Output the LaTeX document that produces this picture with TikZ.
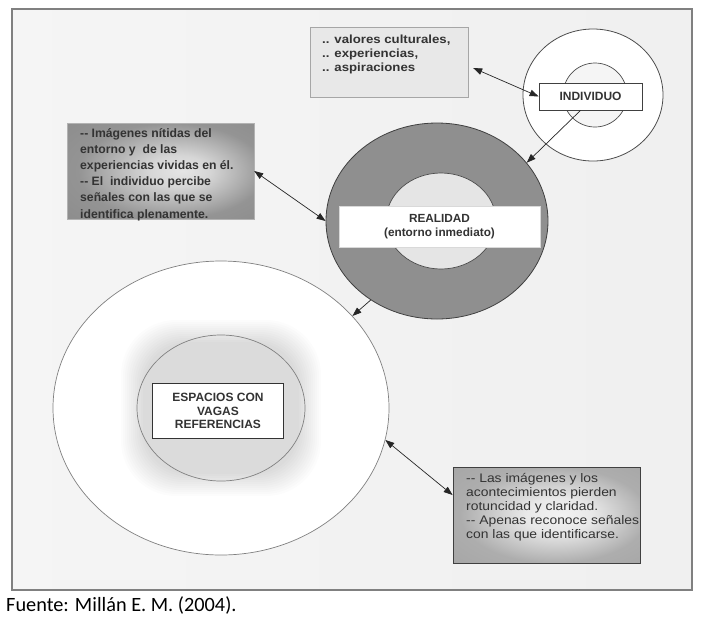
\documentclass[tikz,border=0pt]{standalone}
\usepackage{fontspec}
\setmainfont{Liberation Sans}
\newfontfamily\calibri{Carlito}
\newfontfamily\widesans[FakeStretch=1.12]{Liberation Sans}
\usetikzlibrary{arrows.meta,shapes.geometric,calc}
\pgfdeclareradialshading{lbshade}{\pgfpoint{6bp}{0bp}}{color(0bp)=(black!10); color(8bp)=(black!16); color(25bp)=(black!42); color(50bp)=(black!48)}
\pgfdeclareradialshading{brshade}{\pgfpoint{4bp}{0bp}}{color(0bp)=(black!5); color(9bp)=(black!9); color(25bp)=(black!32); color(50bp)=(black!38)}
\tikzset{
  biarrow/.style={{Triangle[length=9pt,width=6.5pt]}-{Triangle[length=9pt,width=6.5pt]}, line width=0.7pt, black!85},
  onearrow/.style={-{Triangle[length=9pt,width=6.5pt]}, line width=0.7pt, black!85},
  ring/.style={ellipse, inner sep=0pt},
  labelbox/.style={inner sep=0pt, align=center, text=black!80},
  txt/.style={inner sep=0pt, anchor=north west, align=left, text=black!80},
  glowlayer/.style={fill=black, fill opacity=0.011, draw=none},
}
\begin{document}
\begin{tikzpicture}[x=1pt,y=-1pt]
\useasboundingbox (0,0) rectangle (716,625);
\fill[white] (0,0) rectangle (716,625);
% frame
\shade[left color=black!4, middle color=black!9, right color=black!6] (12,9) rectangle (692,590);
\draw[black!50, line width=1.5pt] (12,9) rectangle (692,590);

% INDIVIDUO
\node[ring, draw=black!70, fill=white, line width=0.8pt, minimum width=140pt, minimum height=132pt] (indOut) at (593,95) {};
\node[ring, draw=black!70, fill=black!4, line width=0.7pt, minimum width=64pt, minimum height=64pt] (indIn) at (595,95) {};
\node[labelbox, draw=black!75, fill=white, line width=0.8pt, minimum width=103pt, minimum height=27pt, font=\bfseries\fontsize{12}{14}\selectfont] (ind) at (590.5,96.5) {INDIVIDUO};

% top text box
\node[draw=black!35, fill=black!9, minimum width=158pt, minimum height=70pt, inner sep=0pt] (tb) at (389,62) {};
\node[txt, font=\widesans\bfseries\fontsize{11.8}{14}\selectfont] (tbt) at (322,35) {.. valores culturales,\\.. experiencias,\\.. aspiraciones};

% REALIDAD
\node[ring, draw=black!75, fill=black!44, line width=0.8pt, minimum width=222pt, minimum height=196pt] (real) at (437,221) {};
\node[ring, draw=black!70, fill=black!10, line width=0.7pt, minimum width=110pt, minimum height=96pt] (realIn) at (441,221) {};
\node[labelbox, draw=black!15, fill=white, minimum width=201pt, minimum height=41pt, font=\bfseries\fontsize{11.8}{13.5}\selectfont] (rbox) at (439.5,226.5) {REALIDAD\\(entorno inmediato)};

% left text box
\node[shading=lbshade, draw=black!30, minimum width=187pt, minimum height=96pt, inner sep=0pt] (lb) at (160.5,171) {};
\node[txt, font=\bfseries\fontsize{12.2}{16.2}\selectfont] (lbt) at (80,128) {-{}- Imágenes nítidas del\\entorno y\ \ de las\\experiencias vividas en él.\\-{}- El\ \ individuo percibe\\señales con las que se\\identifica plenamente.};

% ESPACIOS
\node[ring, draw=black!50, fill=white, line width=0.7pt, minimum width=336pt, minimum height=294pt] (big) at (221,408) {};
\foreach \k in {0,...,11}{
  \pgfmathsetmacro\rc{44+\k}
  \pgfmathsetmacro\hw{78+2*\k}
  \pgfmathsetmacro\hh{66+2*\k}
  \fill[glowlayer, rounded corners=\rc pt] ($(big.center)+(-\hw,-\hh)$) rectangle ($(big.center)+(\hw,\hh)$);
}
\node[ring, draw=black!50, line width=0.7pt, minimum width=168pt, minimum height=146pt] (bigIn) at (221,408) {};
\node[labelbox, draw=black!80, fill=white, line width=0.8pt, minimum width=131pt, minimum height=55pt, font=\bfseries\fontsize{12}{13.2}\selectfont] (ebox) at (218,411) {ESPACIOS CON\\VAGAS\\REFERENCIAS};

% bottom right text box
\node[shading=brshade, draw=black!75, line width=0.8pt, minimum width=187pt, minimum height=96pt, inner sep=0pt] (brb) at (546.5,515) {};
\node[txt, font=\widesans\fontsize{12.4}{14}\selectfont] (brbt) at (466,473) {-{}- Las imágenes y los\\acontecimientos pierden\\rotuncidad y claridad.\\-{}- Apenas reconoce señales\\con las que identificarse.};

% connectors
\draw[biarrow] ([xshift=5pt,yshift=-6pt]tb.east) -- (ind.west);
\draw[onearrow] ([xshift=-10pt]ind.south) -- (real.33);
\draw[biarrow] (lb.east) -- (real.180);
\draw[onearrow] (real.230) -- (big.35);
\draw[biarrow] (big.-11) -- (brb.168);

% source
\node[anchor=base west, inner sep=0pt, font=\calibri\fontsize{20.3}{23}\selectfont] (src) at (6,611) {Fuente: Millán E. M. (2004).};
\end{tikzpicture}
\end{document}
